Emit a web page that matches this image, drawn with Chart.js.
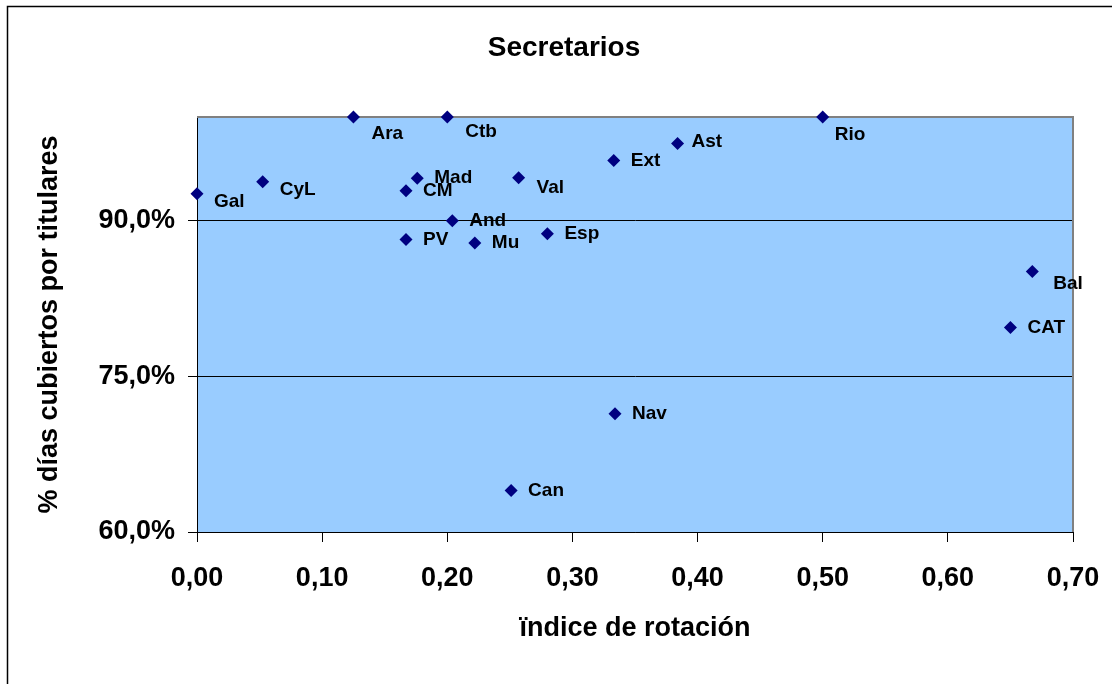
<!DOCTYPE html>
<html>
<head>
<meta charset="utf-8">
<title>Secretarios</title>
<script src="https://cdn.jsdelivr.net/npm/chart.js@4.4.1/dist/chart.umd.min.js"></script>
<style>
    html, body { margin: 0; padding: 0; background: #fff; }
    #chart { display: block; }
</style>
</head>
<body>
<canvas id="chart" width="1112" height="684"></canvas>
<script>
// Values
const regions = ['Gal', 'CyL', 'Ara', 'Ctb', 'Mad', 'CM', 'And', 'PV', 'Mu', 'Val',
    'Esp', 'Ext', 'Ast', 'Rio', 'Bal', 'CAT', 'Nav', 'Can'];
const rotationIndex = [0.000, 0.0525, 0.125, 0.200, 0.176, 0.167, 0.204, 0.167, 0.222, 0.257,
    0.280, 0.333, 0.384, 0.500, 0.6675, 0.650, 0.334, 0.251];
const pctCovered = [92.6, 93.75, 100.0, 100.0, 94.1, 92.9, 90.0, 88.2, 87.85, 94.15,
    88.75, 95.8, 97.45, 100.0, 85.1, 79.7, 71.4, 64.0];
const xTicks = [0, 0.1, 0.2, 0.3, 0.4, 0.5, 0.6, 0.7];
const yTicks = [60, 75, 90];

const FONT = "'Liberation Sans', Arial, Helvetica, sans-serif";

// label nudges where the original puts the name below the marker
const labelOffsets = {
    Gal: [17, 8], CyL: [17, 8], Ara: [18, 17], Ctb: [18, 15], Val: [18, 10],
    Ast: [14, -2], Rio: [12, 18], Bal: [21, 12],
};

const frame = {
    id: 'frame',
    beforeDraw(chart) {
        const { ctx, chartArea: a } = chart;
        ctx.save();
        ctx.fillStyle = '#99CCFF';
        ctx.fillRect(a.left, a.top, a.right - a.left, a.bottom - a.top);
        ctx.restore();
    },
    beforeDatasetsDraw(chart) {
        const { ctx, chartArea: a } = chart;
        ctx.save();
        ctx.strokeStyle = '#808080';
        ctx.lineWidth = 2;
        ctx.beginPath();
        ctx.moveTo(a.left, a.top);
        ctx.lineTo(a.right, a.top);
        ctx.lineTo(a.right, a.bottom);
        ctx.stroke();
        ctx.restore();
    },
    afterDatasetsDraw(chart) {
        const { ctx } = chart;
        const meta = chart.getDatasetMeta(0);
        ctx.save();
        ctx.fillStyle = '#000';
        ctx.font = 'bold 19px ' + FONT;
        ctx.textAlign = 'left';
        ctx.textBaseline = 'middle';
        meta.data.forEach((pt, i) => {
            const [dx, dy] = labelOffsets[regions[i]] || [17, 0];
            ctx.fillText(regions[i], pt.x + dx, pt.y + dy);
        });
        ctx.restore();
    },
    afterDraw(chart) {
        const { ctx, chartArea: a } = chart;
        ctx.save();
        ctx.fillStyle = '#000';
        ctx.textAlign = 'center';
        ctx.textBaseline = 'middle';
        ctx.font = 'bold 28px ' + FONT;
        ctx.fillText('Secretarios', 564, 48);
        ctx.font = 'bold 27px ' + FONT;
        ctx.fillText('ïndice de rotación', (a.left + a.right) / 2, 629);
        ctx.translate(50, (a.top + a.bottom) / 2);
        ctx.rotate(-Math.PI / 2);
        ctx.fillText('% días cubiertos por titulares', 0, 0);
        ctx.restore();

        // outer chart border (only left/top fall inside the picture)
        ctx.save();
        ctx.strokeStyle = '#000';
        ctx.lineWidth = 1.5;
        ctx.beginPath();
        ctx.moveTo(7.5, 700);
        ctx.lineTo(7.5, 6.5);
        ctx.lineTo(1200, 6.5);
        ctx.stroke();
        ctx.restore();
    },
};

new Chart(document.getElementById('chart'), {
    type: 'scatter',
    data: {
        datasets: [{
            data: regions.map((r, i) => ({ x: rotationIndex[i], y: pctCovered[i] })),
            pointStyle: 'rectRot',
            pointRadius: 6.5,
            pointHoverRadius: 6.5,
            backgroundColor: '#000080',
            borderColor: '#000080',
            borderWidth: 0,
            clip: false,
        }],
    },
    options: {
        responsive: false,
        animation: false,
        events: [],
        layout: { padding: { top: 117, right: 39, bottom: 0, left: 0 } },
        plugins: { legend: { display: false }, tooltip: { enabled: false } },
        scales: {
            x: {
                type: 'linear',
                min: 0, max: 0.7,
                afterBuildTicks: (s) => { s.ticks = xTicks.map((v) => ({ value: v })); },
                afterFit: (s) => { s.height = 152; s.paddingLeft = 0; s.paddingRight = 0; },
                grid: { drawOnChartArea: false, drawTicks: true, tickLength: 10, color: '#000', lineWidth: 1 },
                border: { color: '#000', width: 1 },
                ticks: {
                    color: '#000',
                    padding: 20,
                    maxRotation: 0,
                    font: { family: FONT, size: 27, weight: 'bold' },
                    callback: (v) => v.toFixed(2).replace('.', ','),
                },
            },
            y: {
                type: 'linear',
                min: 60, max: 100,
                afterBuildTicks: (s) => { s.ticks = yTicks.map((v) => ({ value: v })); },
                afterFit: (s) => { s.width = 197; s.paddingTop = 0; s.paddingBottom = 0; },
                grid: { drawTicks: true, tickLength: 9, color: '#000', lineWidth: 1 },
                border: { color: '#000', width: 1 },
                ticks: {
                    color: '#000',
                    padding: 13,
                    font: { family: FONT, size: 27, weight: 'bold' },
                    callback: (v) => v.toFixed(1).replace('.', ',') + '%',
                },
            },
        },
    },
    plugins: [frame],
});
</script>
</body>
</html>
